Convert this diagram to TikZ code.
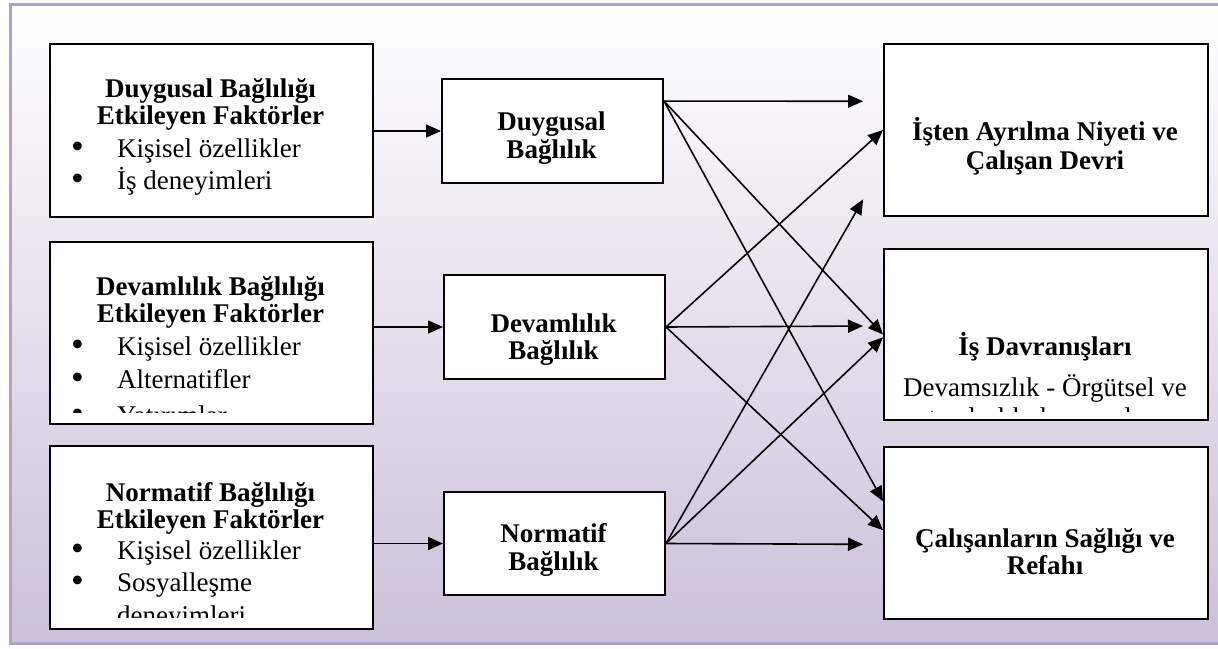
\documentclass[tikz,border=0pt]{standalone}
\usepackage{fontspec}
\setmainfont{Liberation Serif}
\usepackage{xcolor}
\usepackage{tikz}
\usetikzlibrary{arrows.meta}
\usetikzlibrary{positioning}
\definecolor{framelav}{HTML}{B2A1C7}
\definecolor{backlav}{HTML}{CCC0DA}
\newcommand{\diagfont}{\fontsize{27}{30}\selectfont}
\newcommand{\bul}[1]{\makebox[46pt][l]{\raisebox{-1pt}{\scalebox{1.35}{\textbullet}}}#1}
\tikzstyle{block} = [rectangle, draw, line width=2pt, fill=white, inner sep=0pt]
\tikzstyle{boxhead} = [font=\diagfont\bfseries, anchor=base, inner sep=0pt]
\tikzstyle{boxitem} = [font=\diagfont, anchor=base west, inner sep=0pt]
\tikzstyle{line} = [draw, line width=1.6pt, -{Triangle[length=15pt,width=13pt]}]

\begin{document}
\begin{tikzpicture}[x=1pt, y=-1pt]
  \useasboundingbox (0,0) rectangle (1218,648);
  \clip (0,0) rectangle (1218,648);
  % Background
  \shade [top color=white, bottom color=backlav] (10,4) rectangle (1224,643);
  \draw [framelav, line width=3pt] (10,4) rectangle (1224,643);
  % Place nodes
  \node [block, anchor=north west, minimum width=323, minimum height=173] (fact1) at (49,43) {};
  \node [block, anchor=north west, minimum width=323, minimum height=182] (fact2) at (49,241) {};
  \node [block, anchor=north west, minimum width=323, minimum height=183] (fact3) at (49,445) {};
  \node [block, anchor=north west, minimum width=221, minimum height=104] (duy) at (441,78) {};
  \node [block, anchor=north west, minimum width=221, minimum height=104] (dev) at (443,274) {};
  \node [block, anchor=north west, minimum width=221, minimum height=103] (norm) at (443,491) {};
  \node [block, anchor=north west, minimum width=324, minimum height=172] (isten) at (883,43) {};
  \node [block, anchor=north west, minimum width=324, minimum height=171] (davr) at (883,248) {};
  \node [block, anchor=north west, minimum width=324, minimum height=172] (saglik) at (883,446) {};
  % Texts
  \node [boxhead] (fact1-a) at (210.5,97) {Duygusal Bağlılığı};
  \node [boxhead] (fact1-b) at (210.5,124) {Etkileyen Faktörler};
  \node [boxitem] (fact1-c) at (71,157) {\bul{Kişisel özellikler}};
  \node [boxitem] (fact1-d) at (71,189) {\bul{İş deneyimleri}};
  \begin{scope}
    \clip (49,241) rectangle (372,412);
    \node [boxhead] (fact2-a) at (210.5,295) {Devamlılık Bağlılığı};
    \node [boxhead] (fact2-b) at (210.5,322) {Etkileyen Faktörler};
    \node [boxitem] (fact2-c) at (71,355) {\bul{Kişisel özellikler}};
    \node [boxitem] (fact2-d) at (71,388) {\bul{Alternatifler}};
    \node [boxitem] (fact2-e) at (71,424) {\bul{Yatırımlar}};
  \end{scope}
  \begin{scope}
    \clip (49,445) rectangle (372,617);
    \node [boxhead] (fact3-a) at (210.5,501) {Normatif Bağlılığı};
    \node [boxhead] (fact3-b) at (210.5,528) {Etkileyen Faktörler};
    \node [boxitem] (fact3-c) at (71,559) {\bul{Kişisel özellikler}};
    \node [boxitem] (fact3-d) at (71,591) {\bul{Sosyalleşme}};
    \node [boxitem] (fact3-e) at (117,624) {deneyimleri};
  \end{scope}
  \node [boxhead] (duy-a) at (551.5,130) {Duygusal};
  \node [boxhead] (duy-b) at (551.5,158) {Bağlılık};
  \node [boxhead] (dev-a) at (553.5,332) {Devamlılık};
  \node [boxhead] (dev-b) at (553.5,359) {Bağlılık};
  \node [boxhead] (norm-a) at (553.5,542) {Normatif};
  \node [boxhead] (norm-b) at (553.5,570) {Bağlılık};
  \node [boxhead] (isten-a) at (1045,140) {İşten Ayrılma Niyeti ve};
  \node [boxhead] (isten-b) at (1045,169) {Çalışan Devri};
  \node [boxhead] (davr-a) at (1045,355) {İş Davranışları};
  \begin{scope}
    \clip (883,248) rectangle (1207,411);
    \node [boxitem] (davr-b) at (903,396) {Devamsızlık - Örgütsel ve};
    \node [boxitem] (davr-c) at (903,426) {vatandaşlık davranışları};
  \end{scope}
  \node [boxhead] (saglik-a) at (1045,547) {Çalışanların Sağlığı ve};
  \node [boxhead] (saglik-b) at (1045,574) {Refahı};
  % Draw edges
  \path [line] (duy.west -| fact1.east) -- (duy.west);
  \path [line] (dev.west -| fact2.east) -- (dev.west);
  \path [line] (norm.west -| fact3.east) -- (norm.west);
  \path [line, shorten >=20pt] (duy.15) -- (isten.170);
  \path [line] (duy.15) -- (davr.west);
  \path [line] (duy.15) -- (saglik.169);
  \path [line] (dev.east) -- (isten.west);
  \path [line, shorten >=20pt] (dev.east) -- (davr.177);
  \path [line] (dev.east) -- (saglik.179);
  \path [line, shorten >=40pt] (norm.east) -- (isten.192);
  \path [line] (norm.east) -- (davr.181);
  \path [line, shorten >=20pt] (norm.east) -- (saglik.184);
\end{tikzpicture}
\end{document}
